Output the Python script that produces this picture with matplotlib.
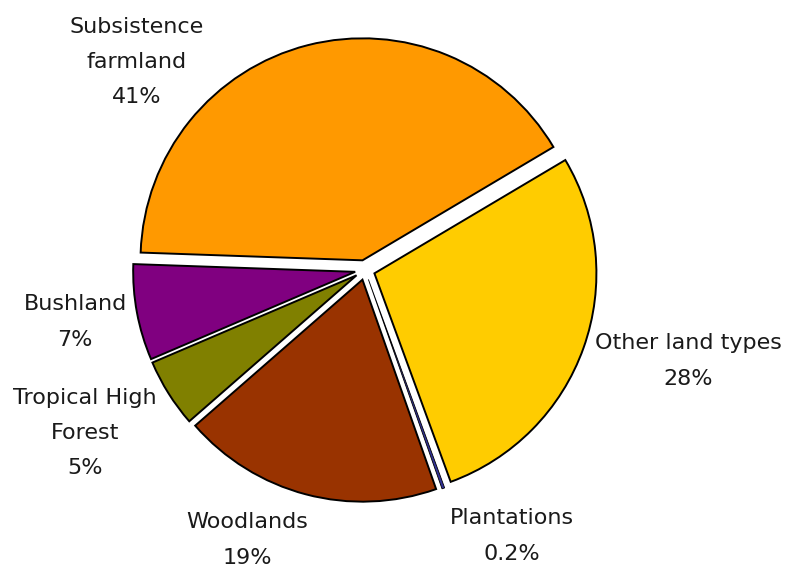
import matplotlib
matplotlib.use("Agg")
import matplotlib.pyplot as plt

# land cover shares (%)
categories = ["Subsistence\nfarmland", "Other land types", "Plantations",
              "Woodlands", "Tropical High\nForest", "Bushland"]
shares = [41, 28, 0.2, 19, 5, 7]
pct_labels = ["41%", "28%", "0.2%", "19%", "5%", "7%"]
colors = ["#FF9900", "#FFCC00", "#333399", "#993300", "#808000", "#800080"]

# label centres, in pie-radius units from the pie centre
label_pos = [(-1.027, 0.937), (1.455, -0.41), (0.662, -1.198),
             (-0.532, -1.216), (-1.261, -0.734), (-1.306, -0.234)]

W, H = 785, 569
cx, cy, r = 365, 270, 222  # pie centre and radius in pixels

fig = plt.figure(figsize=(W / 100, H / 100), dpi=100)
ax = fig.add_axes([0, 0, 1, 1])

wedges, _ = ax.pie(shares, colors=colors, startangle=178, counterclock=False,
                   explode=[0.045] * len(shares),
                   wedgeprops=dict(edgecolor="black", linewidth=1.4))
# the thin plantations sliver would vanish under a full-width outline
wedges[2].set_linewidth(0.6)

ax.set_xlim(-cx / r, (W - cx) / r)
ax.set_ylim(-(H - cy) / r, cy / r)
ax.axis("off")

for name, pct, (x, y) in zip(categories, pct_labels, label_pos):
    ax.text(x, y, name + "\n" + pct, ha="center", va="center",
            fontsize=16, linespacing=1.95, color="#1a1a1a")

fig.savefig("out.png", dpi=100)
